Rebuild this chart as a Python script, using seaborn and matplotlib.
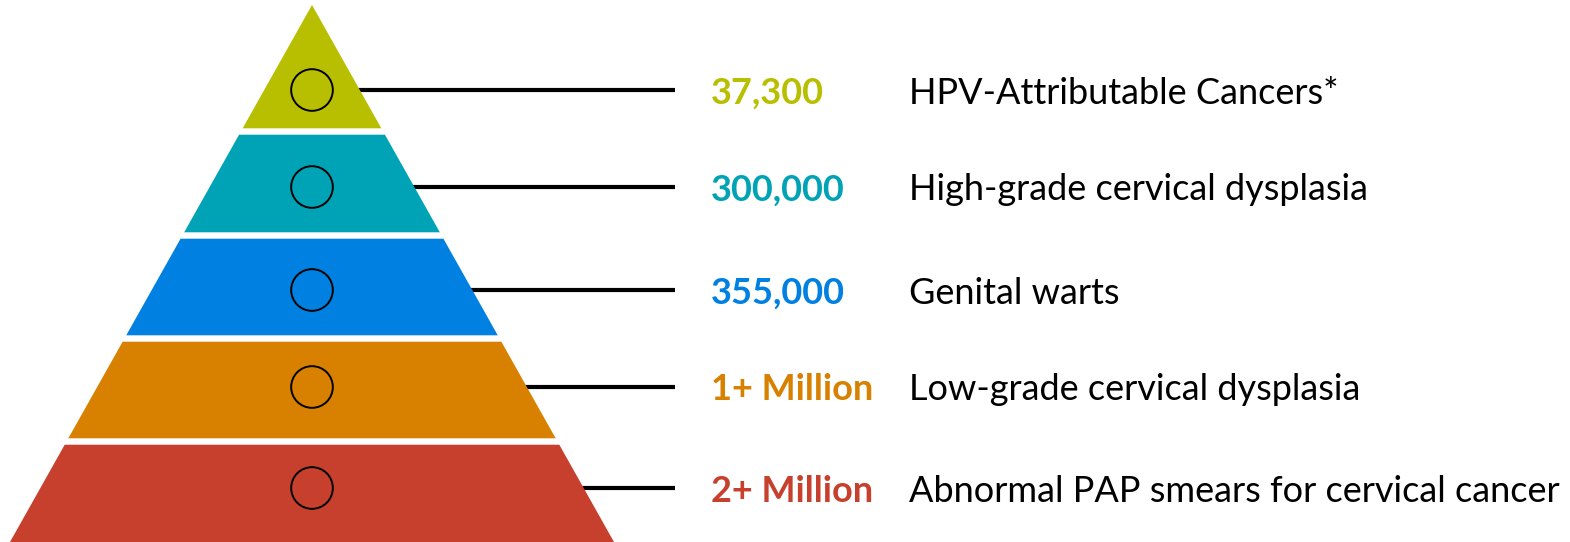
import numpy as np
import matplotlib
matplotlib.use("Agg")
import matplotlib.pyplot as plt
import seaborn as sns

sns.set_theme(style="white")
plt.rcParams["font.family"] = ["Lato", "DejaVu Sans"]

# ------------------------------------------------------------
# DATA (top of pyramid first)
# ------------------------------------------------------------
counts = ["37,300", "300,000", "355,000", "1+ Million", "2+ Million"]
labels = ["HPV-Attributable Cancers*",
          "High-grade cervical dysplasia",
          "Genital warts",
          "Low-grade cervical dysplasia",
          "Abnormal PAP smears for cervical cancer"]
colors = ["#B8BE00", "#00A3B5", "#0080E0", "#D88000", "#C7402E"]

# ------------------------------------------------------------
# LAYOUT (pixel space, y grows down)
# ------------------------------------------------------------
W, H = 1570, 542
apex_x, apex_y = 312, 5
base_y, half_base = 542, 302
bounds = [5, 131.5, 235.5, 338.5, 441.5, 542]
marker_y = [90, 187, 290, 387, 488]
gap = 3.2


def half_width(y):
    return half_base * (y - apex_y) / (base_y - apex_y)


fig = plt.figure(figsize=(W / 100, H / 100), dpi=100)
ax = fig.add_axes([0, 0, 1, 1])
ax.set_xlim(0, W)
ax.set_ylim(H, 0)
ax.axis("off")

# connector lines (behind the pyramid)
ax.hlines(marker_y, apex_x, 675, color="black", linewidth=3, zorder=1)

# pyramid layers
for i, c in enumerate(colors):
    top = bounds[i] + (gap if i > 0 else 0)
    bot = bounds[i + 1] - (gap if i < len(colors) - 1 else 0)
    wt, wb = half_width(top), half_width(bot)
    xs = [apex_x - wt, apex_x + wt, apex_x + wb, apex_x - wb]
    ys = [top, top, bot, bot]
    ax.fill(xs, ys, color=c, linewidth=0, zorder=2)

# circle markers
sns.scatterplot(x=[apex_x] * len(marker_y), y=marker_y, s=900,
                marker="o", facecolor="none", edgecolor="black",
                linewidth=1.4, ax=ax, zorder=3, legend=False)

# texts
for y, n, lab, c in zip(marker_y, counts, labels, colors):
    ax.text(711, y + 3, n, color=c, fontsize=26, fontweight="bold",
            va="center", ha="left")
    ax.text(909, y + 3, lab, color="black", fontsize=26,
            va="center", ha="left")

fig.savefig("out.png", dpi=100)
